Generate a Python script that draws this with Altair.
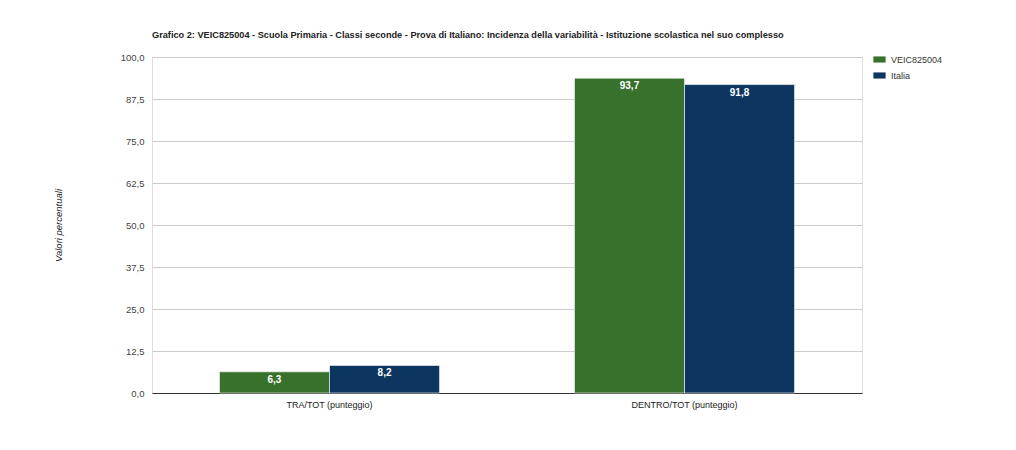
import altair as alt
import pandas as pd

categories = ["TRA/TOT (punteggio)", "DENTRO/TOT (punteggio)"]
series = ["VEIC825004", "Italia"]
veic_values = [6.3, 93.7]
italia_values = [8.2, 91.8]
colors = ["#38712c", "#0c3660"]

rows = []
for i, c in enumerate(categories):
    rows.append({"cat": c, "serie": series[0], "val": veic_values[i]})
    rows.append({"cat": c, "serie": series[1], "val": italia_values[i]})
df = pd.DataFrame(rows)

FONT = "Liberation Sans"

x = alt.X("cat:N", sort=categories,
          scale=alt.Scale(paddingInner=0.38, paddingOuter=0.19),
          axis=alt.Axis(title=None, labelAngle=0, labelFontSize=9, labelColor="#222",
                        labelFont=FONT, ticks=False, domainColor="#333", labelPadding=7))
xo = alt.XOffset("serie:N", sort=series, scale=alt.Scale(domain=series))
y = alt.Y("val:Q", scale=alt.Scale(domain=[0, 100], nice=False),
          axis=alt.Axis(title="Valori percentuali", values=[0, 12.5, 25, 37.5, 50, 62.5, 75, 87.5, 100],
                        labelExpr="replace(format(datum.value, '.1f'), '.', ',')",
                        labelFontSize=9.5, labelColor="#444", labelFont=FONT, labelPadding=8,
                        ticks=False, domain=False, gridColor="#cccccc",
                        titleFont=FONT, titleFontSize=9.5, titleFontStyle="italic",
                        titleFontWeight="normal", titleColor="#222",
                        titleX=-89, titleY=168, titleAngle=-90))

color = alt.Color("serie:N", sort=series,
                  scale=alt.Scale(domain=series, range=colors),
                  legend=alt.Legend(title=None, orient="none", legendX=721, legendY=-4,
                                    symbolType="M-1,-0.5H1V0.5H-1Z", symbolSize=150,
                                    symbolStrokeWidth=0, labelFontSize=9, labelFont=FONT,
                                    labelColor="#333", rowPadding=4, labelOffset=5,
                                    symbolOpacity=1))

bars = alt.Chart(df).mark_bar(stroke="white", strokeWidth=0.6).encode(
    x=x, xOffset=xo, y=y, color=color)

labels = alt.Chart(df).transform_calculate(
    lab="replace(format(datum.val, '.1f'), '.', ',')"
).mark_text(color="white", fontWeight="bold", fontSize=10, font=FONT,
            baseline="top", dy=3).encode(
    x=alt.X("cat:N", sort=categories), xOffset=alt.XOffset("serie:N", sort=series),
    y="val:Q", text="lab:N")

chart = (bars + labels).properties(
    width=710, height=336,
    title=alt.TitleParams(
        "Grafico 2: VEIC825004 - Scuola Primaria - Classi seconde - Prova di Italiano: Incidenza della variabilità - Istituzione scolastica nel suo complesso",
        anchor="start", frame="group", fontSize=9.2, font=FONT, fontWeight="bold",
        color="#222", offset=12),
    autosize=alt.AutoSizeParams(type="none"),
    padding={"left": 144, "top": 49, "right": 140, "bottom": 40},
).configure_view(stroke=None).configure(background="white")

chart.save("out.html", embed_options={"renderer": "svg", "actions": False})
